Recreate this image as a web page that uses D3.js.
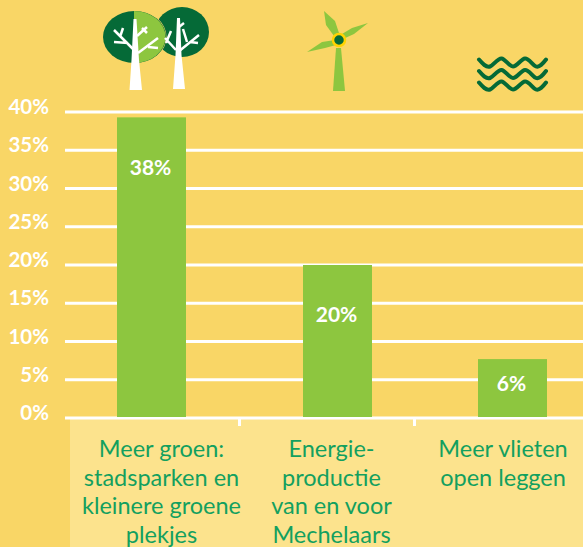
<!DOCTYPE html>
<html>
<head>
<meta charset="utf-8">
<script src="https://cdn.jsdelivr.net/npm/d3@7"></script>
<style>
  html, body { margin: 0; padding: 0; background: #f9d666; }
  svg { display: block; }
  text { font-family: Lato, "Open Sans", sans-serif; }
</style>
</head>
<body>
<svg id="chart" width="583" height="547"></svg>
<script>
(function () {
  var categories = ['groen', 'energie', 'vlieten'];
  var barValues = [39.3, 20, 7.7];
  var barLabels = ['38%', '20%', '6%'];
  var categoryLines = [
    ['Meer groen:', 'stadsparken en', 'kleinere groene', 'plekjes'],
    ['Energie-', 'productie', 'van en voor', 'Mechelaars'],
    ['Meer vlieten', 'open leggen']
  ];
  var tickValues = [0, 5, 10, 15, 20, 25, 30, 35, 40];

  var white = '#ffffff', green = '#8dc63f', dark = '#056a37', textGreen = '#13a05f';

  var svg = d3.select('#chart');
  var y = d3.scaleLinear().domain([0, 40]).range([418, 112]);
  var x = d3.scaleOrdinal().domain(categories).range([151.5, 337.5, 512.5]);
  var xText = d3.scaleOrdinal().domain(categories).range([161.5, 331.5, 503]);
  var barWidth = 69;

  // lighter band behind the category names
  svg.append('rect')
    .attr('x', 70).attr('y', 418)
    .attr('width', 513).attr('height', 129)
    .attr('fill', '#fce38d');

  // gridlines
  svg.selectAll('.grid').data(tickValues).enter().append('line')
    .attr('class', 'grid')
    .attr('x1', 65).attr('x2', 583)
    .attr('y1', function (d) { return y(d); })
    .attr('y2', function (d) { return y(d); })
    .attr('stroke', white).attr('stroke-width', 3);

  // separators under the axis
  svg.selectAll('.sep').data([239.5, 414.5]).enter().append('line')
    .attr('class', 'sep')
    .attr('x1', function (d) { return d; }).attr('x2', function (d) { return d; })
    .attr('y1', 418).attr('y2', 426)
    .attr('stroke', white).attr('stroke-width', 3);

  svg.selectAll('.tick').data(tickValues).enter().append('text')
    .attr('class', 'tick')
    .attr('x', 49)
    .attr('y', function (d) { return y(d) + 2; })
    .attr('text-anchor', 'end')
    .attr('fill', white)
    .attr('font-size', 20.5)
    .attr('font-weight', 700)
    .text(function (d) { return d + '%'; });

  // bars
  svg.selectAll('.bar').data(categories).enter().append('rect')
    .attr('class', 'bar')
    .attr('x', function (d) { return x(d) - barWidth / 2; })
    .attr('width', barWidth)
    .attr('y', function (d, i) { return y(barValues[i]); })
    .attr('height', function (d, i) { return y(0) - y(barValues[i]) - 1; })
    .attr('fill', green);

  var labelY = [175, 322, 391];
  svg.selectAll('.val').data(categories).enter().append('text')
    .attr('class', 'val')
    .attr('x', function (d) { return x(d) - 1; })
    .attr('y', function (d, i) { return labelY[i]; })
    .attr('text-anchor', 'middle')
    .attr('fill', white)
    .attr('font-size', 21)
    .attr('font-weight', 700)
    .text(function (d, i) { return barLabels[i]; });

  // category names
  categories.forEach(function (c, i) {
    svg.append('text')
      .attr('text-anchor', 'middle')
      .attr('fill', textGreen)
      .attr('font-size', 23.5)
      .selectAll('tspan').data(categoryLines[i]).enter().append('tspan')
        .attr('x', xText(c))
        .attr('y', function (d, j) { return 457 + j * 28.5; })
        .text(function (d) { return d; });
  });

  // tree icons
  function branch(g, d) {
    g.append('path').attr('d', d).attr('fill', 'none')
      .attr('stroke', white).attr('stroke-width', 2.5);
  }
  var trees = svg.append('g');
  trees.append('ellipse').attr('cx', 182).attr('cy', 32)
    .attr('rx', 27).attr('ry', 25).attr('fill', dark);
  trees.append('ellipse').attr('cx', 134.5).attr('cy', 37)
    .attr('rx', 32).attr('ry', 27).attr('fill', '#f9d666');
  trees.append('ellipse').attr('cx', 134.5).attr('cy', 37)
    .attr('rx', 31.5).attr('ry', 26).attr('fill', dark);
  trees.append('path').attr('d', 'M134,11 A31.5,26 0 0 1 134,63 Z').attr('fill', green);
  trees.append('path').attr('d', 'M133.5,19 L136.5,19 L139,60 L142,90 L129.5,90 L131.5,60 Z').attr('fill', white);
  branch(trees, 'M133,49 L114,30 M120,37 L123,28 M114,42 L128,43');
  branch(trees, 'M137,36 L147,27 M142,28 L147,33');
  branch(trees, 'M138,53 L158,38 M148,47 L158,48');
  trees.append('path').attr('d', 'M177,18 L180,18 L181.5,55 L185,89 L173,89 L175.5,55 Z').attr('fill', white);
  branch(trees, 'M166,43 L171,31 M165,38 L176,50');
  branch(trees, 'M179,27 L184,23');
  branch(trees, 'M178,52 L199,35 M187,42 L183,29 M190,42 L198,43');

  // wind turbine icon
  var mill = svg.append('g');
  mill.append('path').attr('d', 'M336,48 L341,48 L345,91 L333,91 Z').attr('fill', green);
  mill.append('path').attr('d', 'M324,11 L335,21 L339,33 L334,36 L326,25 Z').attr('fill', green);
  mill.append('path').attr('d', 'M368,23 L354,34 L343,39 L342,34 L352,28 Z').attr('fill', green);
  mill.append('path').attr('d', 'M307,52 L322,42 L335,40 L336,45 L325,48 Z').attr('fill', green);
  mill.append('circle').attr('cx', 339).attr('cy', 40).attr('r', 6)
    .attr('fill', dark).attr('stroke', '#ffd400').attr('stroke-width', 2.5);

  // water icon
  var waveLine = d3.line().curve(d3.curveNatural);
  var waveX = [479, 490, 501.5, 513, 525, 536, 546];
  var wavePhase = [-3, 4, -4, 4, -4, 4, -3];
  [62.5, 74, 85.5].forEach(function (cy) {
    svg.append('path')
      .attr('d', waveLine(waveX.map(function (px, i) { return [px, cy + wavePhase[i]]; })))
      .attr('fill', 'none')
      .attr('stroke', dark)
      .attr('stroke-width', 4)
      .attr('stroke-linecap', 'round');
  });
})();
</script>
</body>
</html>
